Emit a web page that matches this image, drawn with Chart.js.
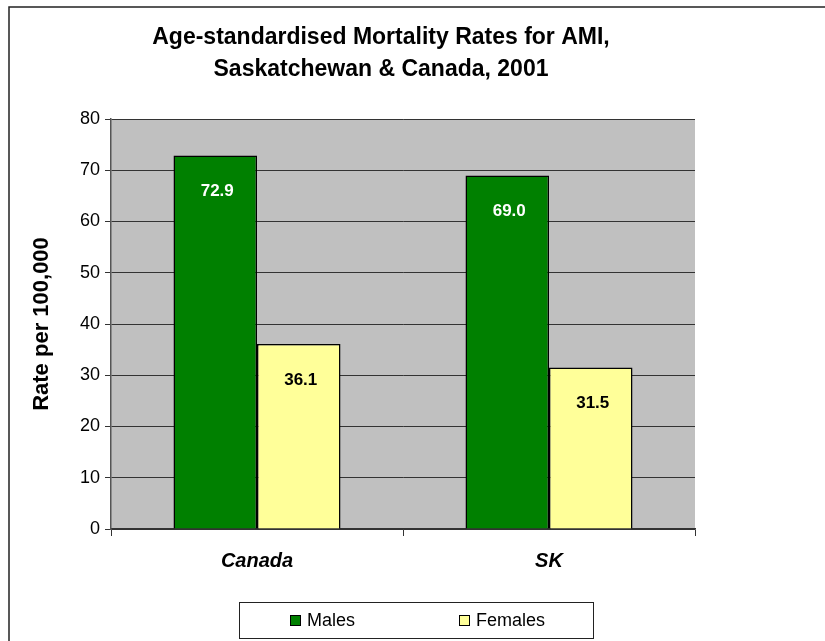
<!DOCTYPE html>
<html>
<head>
<meta charset="utf-8">
<title>AMI mortality rates</title>
<script src="https://cdn.jsdelivr.net/npm/chart.js@4"></script>
<style>
  html, body { margin: 0; padding: 0; background: #fff; }
  #wrap { position: relative; width: 825px; height: 641px; }
</style>
</head>
<body>
<div id="wrap"><canvas id="amiChart" width="825" height="641"></canvas></div>
<script>
// age-standardised AMI mortality, rate per 100,000 (2001)
const categories = ['Canada', 'SK'];
const males = [72.9, 69.0];
const females = [36.1, 31.5];
const seriesNames = ['Males', 'Females'];
const titleLines = ['Age-standardised Mortality Rates for AMI,', 'Saskatchewan & Canada, 2001'];
const yMin = 0, yMax = 80, yStep = 10;

const FONT = '"Liberation Sans", Arial, sans-serif';

// grey plot background + outer frame
const frame = {
  id: 'frame',
  beforeDraw(chart) {
    const { ctx, chartArea: a } = chart;
    ctx.save();
    ctx.fillStyle = '#c0c0c0';
    ctx.fillRect(a.left, a.top, a.right - a.left, a.bottom - a.top);
    ctx.strokeStyle = '#222';
    ctx.lineWidth = 1.5;
    ctx.beginPath();
    ctx.moveTo(9, 641);
    ctx.lineTo(9, 7);
    ctx.lineTo(825, 7);
    ctx.stroke();
    ctx.restore();
  }
};

// two-line title
const titleText = {
  id: 'titleText',
  afterDraw(chart) {
    const ctx = chart.ctx;
    ctx.save();
    ctx.fillStyle = '#000';
    ctx.font = 'bold 23px ' + FONT;
    ctx.textAlign = 'center';
    ctx.textBaseline = 'middle';
    ctx.fillText(titleLines[0], 381, 38);
    ctx.fillText(titleLines[1], 381, 70);
    ctx.restore();
  }
};

// value labels inside the bars
const valueLabels = {
  id: 'valueLabels',
  afterDatasetsDraw(chart) {
    const ctx = chart.ctx;
    ctx.save();
    ctx.font = 'bold 17px ' + FONT;
    ctx.textAlign = 'center';
    ctx.textBaseline = 'middle';
    chart.data.datasets.forEach((ds, i) => {
      ctx.fillStyle = i === 0 ? '#fff' : '#000';
      chart.getDatasetMeta(i).data.forEach((bar, j) => {
        ctx.fillText(ds.data[j].toFixed(1), bar.x + 2, bar.y + 36);
      });
    });
    ctx.restore();
  }
};

// boxed legend below the axis
const boxLegend = {
  id: 'boxLegend',
  afterDraw(chart) {
    const ctx = chart.ctx;
    ctx.save();
    ctx.strokeStyle = '#222';
    ctx.lineWidth = 1;
    ctx.strokeRect(239.5, 602.5, 354, 36);
    const xs = [290, 459];
    ctx.font = '18px ' + FONT;
    ctx.textBaseline = 'middle';
    chart.data.datasets.forEach((ds, i) => {
      ctx.fillStyle = ds.backgroundColor;
      ctx.fillRect(xs[i], 615, 11, 11);
      ctx.strokeStyle = '#000';
      ctx.strokeRect(xs[i] + 0.5, 615.5, 10, 10);
      ctx.fillStyle = '#000';
      ctx.fillText(ds.label, xs[i] + 17, 621);
    });
    ctx.restore();
  }
};

new Chart(document.getElementById('amiChart'), {
  type: 'bar',
  data: {
    labels: categories,
    datasets: [
      { label: seriesNames[0], data: males, backgroundColor: '#008000', borderColor: '#000', borderWidth: 1.5 },
      { label: seriesNames[1], data: females, backgroundColor: '#ffff99', borderColor: '#000', borderWidth: 1.5 }
    ]
  },
  options: {
    responsive: false,
    animation: false,
    layout: { padding: { left: 0, right: 130, top: 119, bottom: 62 } },
    datasets: { bar: { categoryPercentage: 0.572, barPercentage: 1 } },
    plugins: { legend: { display: false }, title: { display: false }, tooltip: { enabled: false } },
    scales: {
      x: {
        grid: { drawOnChartArea: false, drawTicks: true, tickLength: 7, color: '#333', offset: true },
        border: { color: '#333', width: 1.5 },
        ticks: { color: '#000', font: { family: FONT, size: 20, weight: 'bold', style: 'italic' }, padding: 13 },
        afterFit(s) { s.height = 50; }
      },
      y: {
        min: yMin, max: yMax,
        grid: { color: '#333', lineWidth: 1, tickLength: 6 },
        border: { color: '#555', width: 1.5 },
        ticks: { stepSize: yStep, color: '#000', font: { family: FONT, size: 18 }, padding: 5 },
        title: { display: true, text: 'Rate per 100,000', color: '#000', font: { family: FONT, size: 22, weight: 'bold' }, padding: { top: 29, bottom: 0 } },
        afterFit(s) { s.width = 111; }
      }
    }
  },
  plugins: [frame, titleText, valueLabels, boxLegend]
});
</script>
</body>
</html>
